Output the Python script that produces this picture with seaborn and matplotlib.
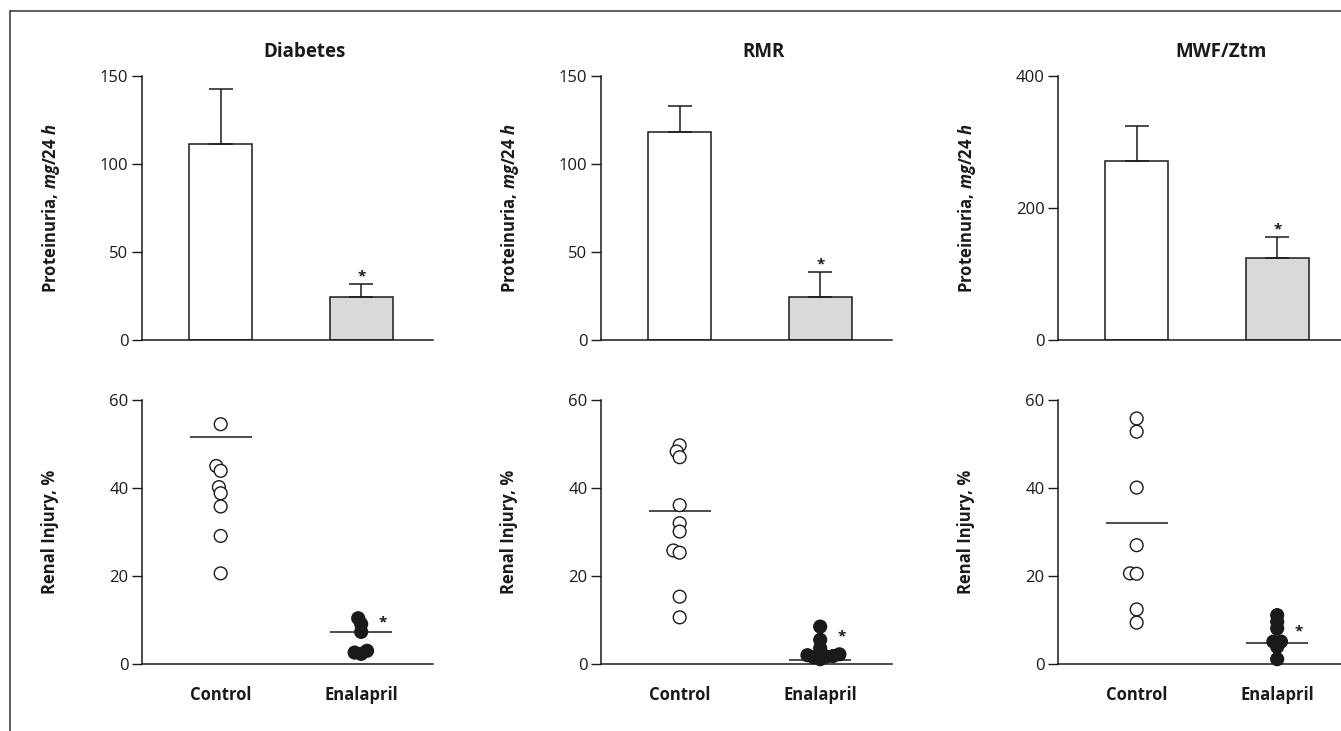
import numpy as np
import pandas as pd
import matplotlib
matplotlib.use("Agg")
import matplotlib.pyplot as plt
from matplotlib.lines import Line2D
import seaborn as sns

# ---------------------------
# DATA
# ---------------------------
groups = ["Control", "Enalapril"]
models = ["Diabetes", "RMR", "MWF/Ztm"]

# proteinuria, mean and upper error (mg/24 h)
prot_diabetes = [111.4, 24.6]
prot_diabetes_err = [31.2, 7.2]
prot_rmr = [118.4, 24.6]
prot_rmr_err = [14.7, 13.9]
prot_mwf = [271.7, 124.7]
prot_mwf_err = [52.5, 31.8]
prot_ymax = [150, 150, 400]
prot_ticks = [[0, 50, 100, 150], [0, 50, 100, 150], [0, 200, 400]]

# renal injury, individual animals (%)
diabetes_control = [54.5, 45.0, 43.9, 40.2, 38.8, 35.8, 29.1, 20.6]
diabetes_enalapril = [10.4, 9.1, 7.3, 3.0, 2.6, 2.3]
rmr_control = [49.7, 48.3, 47.0, 36.1, 32.0, 30.1, 25.8, 25.3, 15.3, 10.6]
rmr_enalapril = [8.5, 5.5, 3.6, 2.2, 1.7, 2.0, 1.5, 1.1, 1.8]
mwf_control = [55.8, 52.8, 40.1, 27.0, 20.6, 20.5, 12.4, 9.4]
mwf_enalapril = [11.1, 9.6, 8.1, 5.1, 5.1, 3.9, 1.1]

# group lines drawn in the figure
injury_line_control = [51.5, 34.7, 32.0]
injury_line_enalapril = [7.2, 1.0, 4.7]

prot_means = [prot_diabetes, prot_rmr, prot_mwf]
prot_errs = [prot_diabetes_err, prot_rmr_err, prot_mwf_err]
injury = [(diabetes_control, diabetes_enalapril),
          (rmr_control, rmr_enalapril),
          (mwf_control, mwf_enalapril)]

# ---------------------------
# LAYOUT
# ---------------------------
W, H = 1341, 731
INK = "#1a1a1a"
ax_left = [141.7, 600.7, 1057.7]
ax_w = 291
top_y0, top_y1 = 76, 340
bot_y0, bot_y1 = 400, 664
XLIM = (-0.562, 1.509)
star_y_bottom = [9.4, 6.2, 7.3]

sns.set_style("ticks")
plt.rcParams["font.family"] = ["Open Sans", "DejaVu Sans"]
plt.rcParams["mathtext.fontset"] = "custom"
plt.rcParams["mathtext.it"] = "Open Sans:italic:bold"
plt.rcParams["mathtext.rm"] = "Open Sans:bold"
plt.rcParams["axes.edgecolor"] = INK
plt.rcParams["xtick.color"] = INK
plt.rcParams["ytick.color"] = INK
plt.rcParams["text.color"] = INK
plt.rcParams["axes.labelcolor"] = INK


def rect(x0, y0, y1):
    return [x0 / W, 1 - y1 / H, ax_w / W, (y1 - y0) / H]


def style_axis(ax, ymax, ticks):
    sns.despine(ax=ax)
    ax.spines["left"].set_linewidth(1.1)
    ax.spines["bottom"].set_linewidth(1.1)
    ax.set_xlim(*XLIM)
    ax.set_ylim(0, ymax)
    ax.set_yticks(ticks)
    ax.tick_params(axis="y", length=7.5, width=1.0, labelsize=12, pad=2)


fig = plt.figure(figsize=(W / 100, H / 100), dpi=100)
swarms = []

for i, model in enumerate(models):
    # --- proteinuria bars ---
    ax = fig.add_axes(rect(ax_left[i], top_y0, top_y1))
    bars = pd.DataFrame({"group": groups, "value": prot_means[i]})
    sns.barplot(data=bars, x="group", y="value", hue="group", order=groups,
                palette={"Control": "white", "Enalapril": "#d9d9d9"},
                edgecolor=INK, linewidth=1.1, width=0.448, errorbar=None,
                legend=False, ax=ax)
    ax.errorbar([0, 1], prot_means[i], yerr=[[0, 0], prot_errs[i]],
                fmt="none", ecolor=INK, elinewidth=1.1, capsize=8.6,
                capthick=1.1)
    style_axis(ax, prot_ymax[i], prot_ticks[i])
    ax.tick_params(axis="x", length=0, labelbottom=False)
    ax.set_xlabel("")
    ax.set_ylabel(r"Proteinuria, $\mathit{mg/24\ h}$", fontsize=12,
                  fontweight="bold")
    ax.yaxis.set_label_coords(-80 / ax_w, 0.5)
    top = prot_means[i][1] + prot_errs[i][1]
    ax.annotate("*", xy=(1, top), xytext=(0, 2.5), textcoords="offset points",
                ha="center", va="baseline", fontsize=11, fontweight="bold")
    ax.text(0.56, 1 + 24 / 264, model, transform=ax.transAxes, ha="center",
            va="center", fontsize=13.5, fontweight="bold")

    # --- renal injury dot plots ---
    ax = fig.add_axes(rect(ax_left[i], bot_y0, bot_y1))
    ctrl, enal = injury[i]
    dots = pd.DataFrame({"group": ["Control"] * len(ctrl) + ["Enalapril"] * len(enal),
                         "value": ctrl + enal})
    sns.swarmplot(data=dots, x="group", y="value", hue="group", order=groups,
                  palette={"Control": "white", "Enalapril": INK},
                  edgecolor=INK, linewidth=1.0, size=3.6, legend=False,
                  clip_on=False, ax=ax)
    swarms.extend(ax.collections)
    ax.hlines([injury_line_control[i], injury_line_enalapril[i]],
              [-0.22, 0.78], [0.22, 1.22], color=INK, linewidth=1.1, zorder=1)
    style_axis(ax, 60, [0, 20, 40, 60])
    ax.tick_params(axis="x", length=0, labelsize=12, pad=16)
    for lab in ax.get_xticklabels():
        lab.set_fontweight("bold")
    ax.set_xlabel("")
    ax.set_ylabel("Renal Injury, %", fontsize=12, fontweight="bold")
    ax.yaxis.set_label_coords(-83 / ax_w, 0.5)
    ax.text(1.15, star_y_bottom[i], "*", ha="center", va="center",
            fontsize=11, fontweight="bold")

# let seaborn lay out the swarms with a small collision size,
# then freeze them and draw the markers at their real size
fig.canvas.draw()
for coll in swarms:
    if "draw" in coll.__dict__:
        del coll.draw
    coll.set_sizes([9.2 ** 2])
    coll.set_zorder(3)

# outer frame (top and left edges of the figure box)
fig.add_artist(Line2D([10 / W, 1], [1 - 10.7 / H, 1 - 10.7 / H],
                      transform=fig.transFigure, color="#333333", linewidth=1.1))
fig.add_artist(Line2D([10 / W, 10 / W], [0, 1 - 10.7 / H],
                      transform=fig.transFigure, color="#333333", linewidth=1.1))

fig.savefig("out.png", dpi=100)
